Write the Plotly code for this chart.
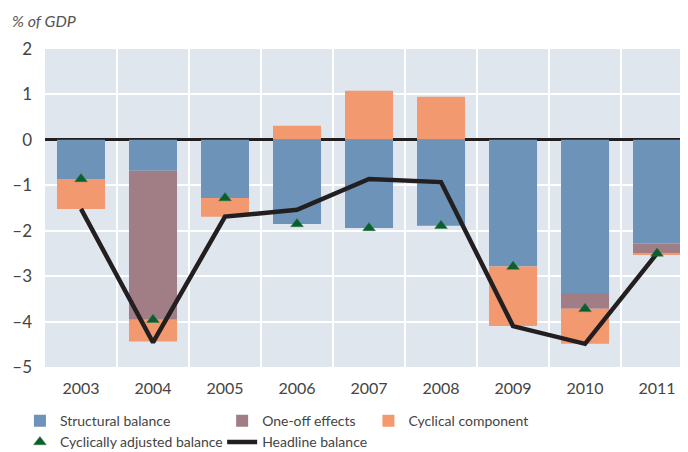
import plotly.graph_objects as go

years = ["2003", "2004", "2005", "2006", "2007", "2008", "2009", "2010", "2011"]
structural = [-0.86, -0.68, -1.28, -1.85, -1.94, -1.89, -2.79, -3.37, -2.28]
one_off = [0, -3.28, 0, 0, 0, 0, 0, -0.35, -0.22]
cyclical = [-0.66, -0.48, -0.41, 0.31, 1.08, 0.95, -1.31, -0.77, -0.03]
cyc_adjusted = [-0.86, -3.96, -1.28, -1.85, -1.94, -1.89, -2.79, -3.72, -2.50]
headline = [-1.52, -4.46, -1.69, -1.54, -0.86, -0.93, -4.10, -4.49, -2.50]

y_ticks = [2, 1, 0, -1, -2, -3, -4, -5]
y_labels = ["2", "1", "0", "–1", "–2", "–3", "–4", "–5"]

FONT = "Lato"
TEXT_COL = "#444444"

fig = go.Figure()
fig.add_trace(go.Bar(x=years, y=structural, name="Structural balance",
                     marker=dict(color="#6d93b8", line_width=0), legend="legend"))
fig.add_trace(go.Bar(x=years, y=one_off, name="One-off effects",
                     marker=dict(color="#a17d86", line_width=0), legend="legend2"))
fig.add_trace(go.Bar(x=years, y=cyclical, name="Cyclical component",
                     marker=dict(color="#f3996f", line_width=0), legend="legend3"))
fig.add_trace(go.Scatter(x=years, y=headline, name="Headline balance", mode="lines",
                         line=dict(color="#231f20", width=4.5), legend="legend2"))
fig.add_trace(go.Scatter(x=years, y=cyc_adjusted, name="Cyclically adjusted balance",
                         mode="markers", legend="legend",
                         marker=dict(symbol="triangle-up", size=11, color="#0b5e2e",
                                     line=dict(color="#2f7a45", width=0.5))))

legend_common = dict(orientation="v", font=dict(family=FONT, size=14, color=TEXT_COL),
                     bgcolor="rgba(0,0,0,0)", xanchor="left", yanchor="top",
                     yref="paper", xref="paper", tracegroupgap=0, itemwidth=30)

# page body adds ~8px offset, so margins are trimmed by 8 on left/top
fig.update_layout(
    width=688, height=452,
    margin=dict(l=37, r=8, t=41, b=93, autoexpand=False),
    plot_bgcolor="#dfe6ee", paper_bgcolor="white",
    barmode="relative", bargap=0.333,
    font=dict(family=FONT, size=16, color=TEXT_COL),
    legend=dict(x=-0.039, y=-0.12, **legend_common),
    legend2=dict(x=0.2755, y=-0.12, **legend_common),
    legend3=dict(x=0.503, y=-0.12, **legend_common),
    xaxis=dict(type="category", range=[-0.5, 8.43], tickson="boundaries",
               showgrid=True, gridcolor="white", gridwidth=2, ticks="",
               ticklabelstandoff=10, tickfont=dict(size=16), showline=False, zeroline=False,
               automargin=False),
    yaxis=dict(range=[-5, 2], tickvals=y_ticks, ticktext=y_labels,
               showgrid=True, gridcolor="white", gridwidth=2,
               zeroline=True, zerolinecolor="#231f20", zerolinewidth=2.5,
               ticks="", ticklabelstandoff=12, tickfont=dict(size=17), automargin=False),
    annotations=[dict(text="<i>% of GDP</i>", xref="paper", yref="paper",
                      x=-0.054, y=1.09, xanchor="left", yanchor="middle",
                      showarrow=False, font=dict(family=FONT, size=16, color="#555555"))],
)

fig.write_html("out.html")
